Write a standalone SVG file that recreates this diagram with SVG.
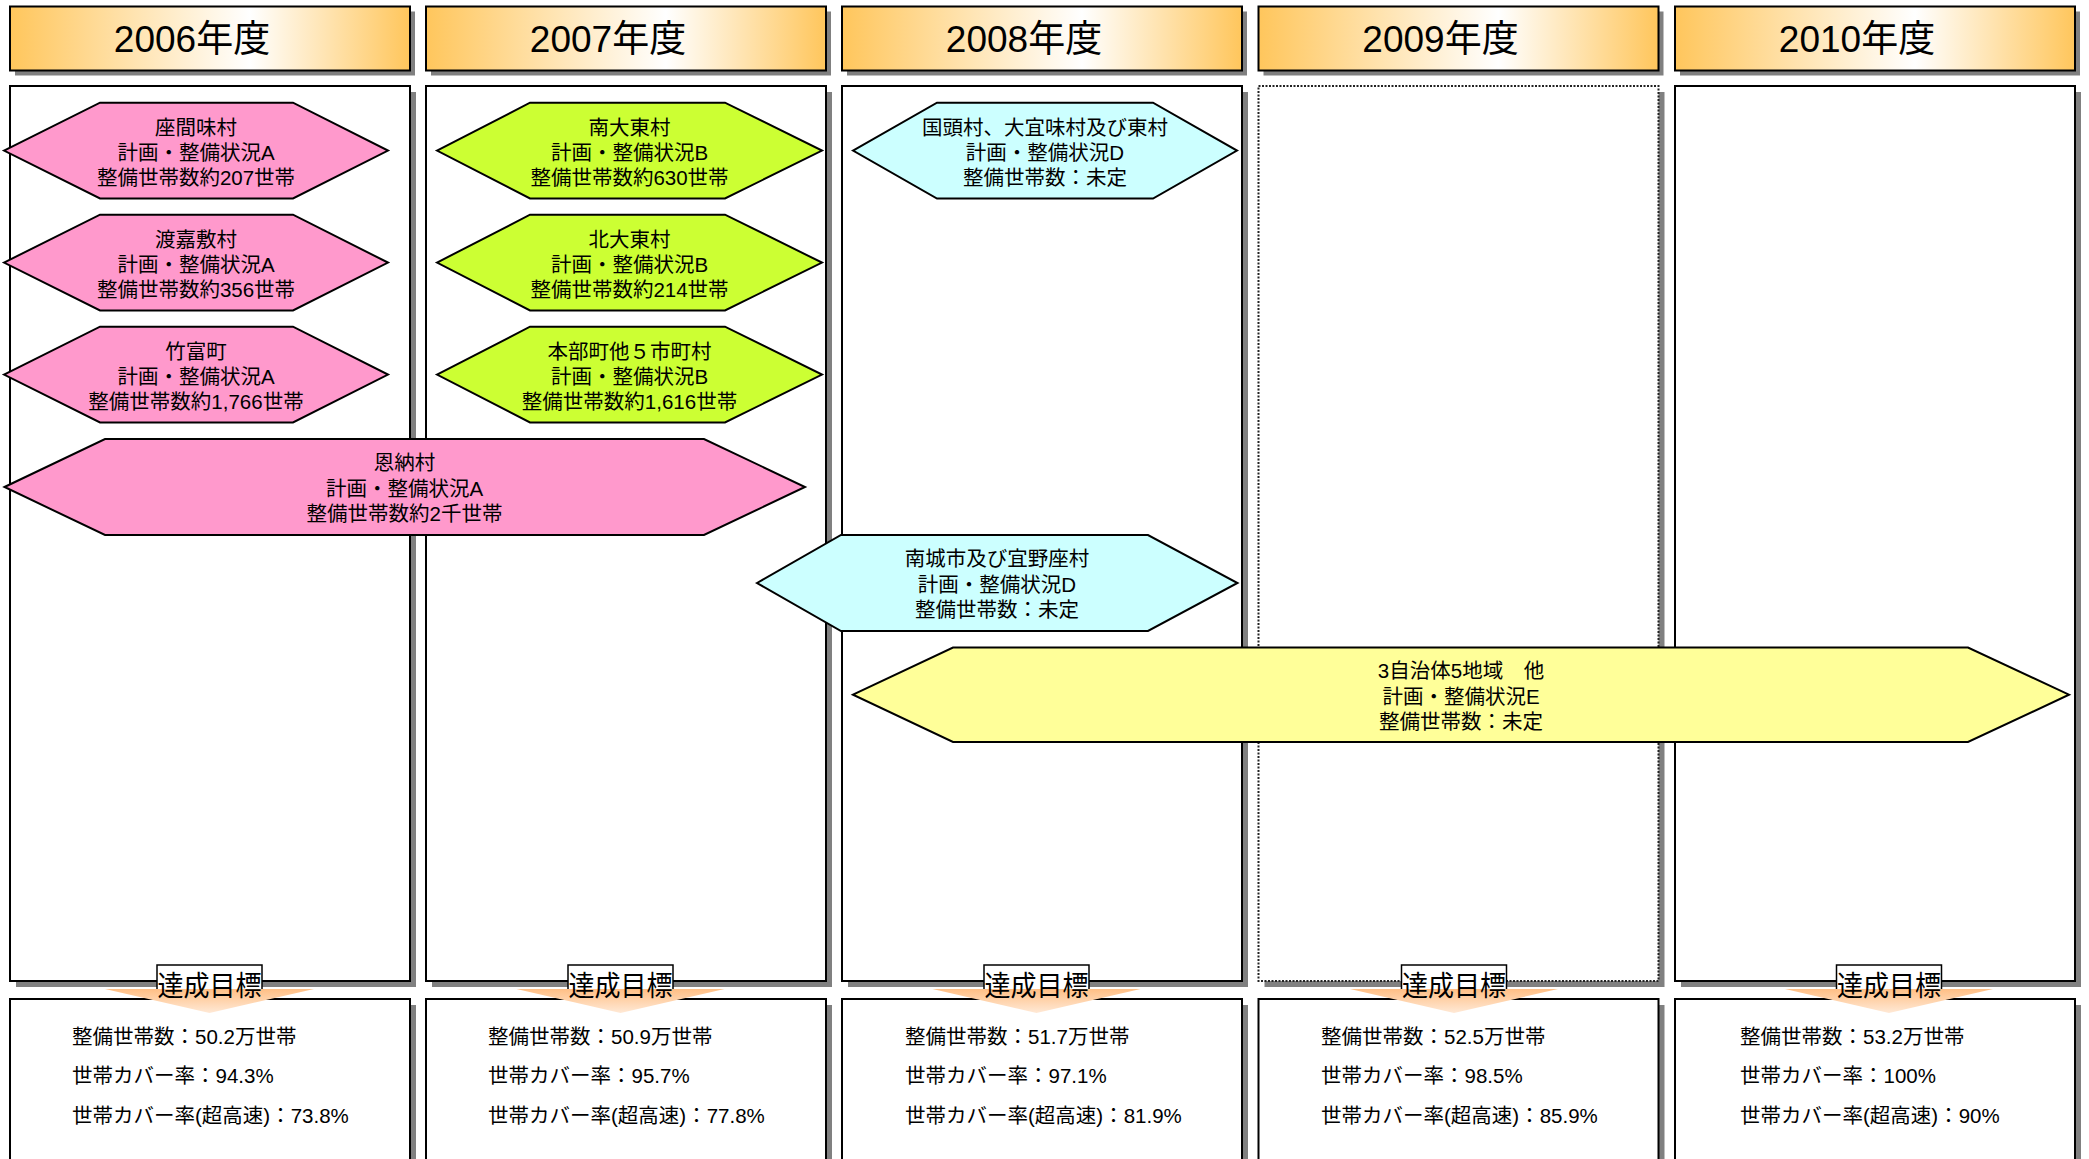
<svg xmlns="http://www.w3.org/2000/svg" width="2089" height="1159" viewBox="0 0 2089 1159">
<defs>
<linearGradient id="hdr" x1="0" y1="0" x2="1" y2="0">
<stop offset="0" stop-color="#FFC65C"/>
<stop offset="0.6" stop-color="#FFFFFF"/>
<stop offset="1" stop-color="#FFC65C"/>
</linearGradient>
<linearGradient id="arw" x1="0" y1="0" x2="0" y2="1">
<stop offset="0" stop-color="#FFBF85"/>
<stop offset="1" stop-color="#FFE9D6"/>
</linearGradient>
</defs>
<style>
text{font-family:"Liberation Sans","Noto Sans CJK JP",sans-serif;fill:#000}
.hdr{fill:url(#hdr);stroke:#000;stroke-width:2}
.shd{fill:#808080}
.pnl{fill:#fff;stroke:#000;stroke-width:2}
.dot{fill:#fff;stroke:#222;stroke-width:2;stroke-dasharray:2 1.5}
.ht{font-size:37px;text-anchor:middle}
.nt{font-size:20.5px;text-anchor:middle}
.gt{font-size:20.5px}
.lbl{fill:#fff;stroke:#000;stroke-width:1.5}
.lt{font-size:28px;text-anchor:middle}
.arw{fill:url(#arw);stroke:none}
.hx{stroke:#000;stroke-width:2}
.pink{fill:#FF99CC}
.green{fill:#CCFF33}
.cyan{fill:#CCFFFF}
.yellow{fill:#FFFF99}
</style>
<rect width="2089" height="1159" fill="#fff"/>

<g id="col2006">
<rect class="shd" x="15" y="11.5" width="400" height="64"/>
<rect class="hdr" x="10" y="6.5" width="400" height="64"/>
<text class="ht" x="192" y="52">2006年度</text>
<rect class="shd" x="16" y="92" width="400" height="895"/>
<rect class="pnl" x="10" y="86" width="400" height="895"/>
<rect class="shd" x="16" y="1005" width="400" height="200"/>
<rect class="pnl" x="10" y="999" width="400" height="200"/>
<text class="gt" x="72" y="1044">整備世帯数：50.2万世帯</text>
<text class="gt" x="72" y="1083">世帯カバー率：94.3%</text>
<text class="gt" x="72" y="1123">世帯カバー率(超高速)：73.8%</text>
</g>

<g id="col2007">
<rect class="shd" x="431" y="11.5" width="400" height="64"/>
<rect class="hdr" x="426" y="6.5" width="400" height="64"/>
<text class="ht" x="608" y="52">2007年度</text>
<rect class="shd" x="432" y="92" width="400" height="895"/>
<rect class="pnl" x="426" y="86" width="400" height="895"/>
<rect class="shd" x="432" y="1005" width="400" height="200"/>
<rect class="pnl" x="426" y="999" width="400" height="200"/>
<text class="gt" x="488" y="1044">整備世帯数：50.9万世帯</text>
<text class="gt" x="488" y="1083">世帯カバー率：95.7%</text>
<text class="gt" x="488" y="1123">世帯カバー率(超高速)：77.8%</text>
</g>

<g id="col2008">
<rect class="shd" x="847" y="11.5" width="400" height="64"/>
<rect class="hdr" x="842" y="6.5" width="400" height="64"/>
<text class="ht" x="1024" y="52">2008年度</text>
<rect class="shd" x="848" y="92" width="400" height="895"/>
<rect class="pnl" x="842" y="86" width="400" height="895"/>
<rect class="shd" x="848" y="1005" width="400" height="200"/>
<rect class="pnl" x="842" y="999" width="400" height="200"/>
<text class="gt" x="905" y="1044">整備世帯数：51.7万世帯</text>
<text class="gt" x="905" y="1083">世帯カバー率：97.1%</text>
<text class="gt" x="905" y="1123">世帯カバー率(超高速)：81.9%</text>
</g>

<g id="col2009">
<rect class="shd" x="1263.5" y="11.5" width="400" height="64"/>
<rect class="hdr" x="1258.5" y="6.5" width="400" height="64"/>
<text class="ht" x="1440.5" y="52">2009年度</text>
<rect class="shd" x="1264.5" y="92" width="400" height="895"/>
<rect class="dot" x="1258.5" y="86" width="400" height="895"/>
<rect class="shd" x="1264.5" y="1005" width="400" height="200"/>
<rect class="pnl" x="1258.5" y="999" width="400" height="200"/>
<text class="gt" x="1321" y="1044">整備世帯数：52.5万世帯</text>
<text class="gt" x="1321" y="1083">世帯カバー率：98.5%</text>
<text class="gt" x="1321" y="1123">世帯カバー率(超高速)：85.9%</text>
</g>

<g id="col2010">
<rect class="shd" x="1680" y="11.5" width="400" height="64"/>
<rect class="hdr" x="1675" y="6.5" width="400" height="64"/>
<text class="ht" x="1857" y="52">2010年度</text>
<rect class="shd" x="1681" y="92" width="400" height="895"/>
<rect class="pnl" x="1675" y="86" width="400" height="895"/>
<rect class="shd" x="1681" y="1005" width="400" height="200"/>
<rect class="pnl" x="1675" y="999" width="400" height="200"/>
<text class="gt" x="1740" y="1044">整備世帯数：53.2万世帯</text>
<text class="gt" x="1740" y="1083">世帯カバー率：100%</text>
<text class="gt" x="1740" y="1123">世帯カバー率(超高速)：90%</text>
</g>

<g id="connectors">
<g id="goal2006">
<rect class="lbl" x="157" y="965" width="105" height="26"/>
<polygon class="arw" points="105,989 314,989 209.5,1013"/>
<text class="lt" x="209.5" y="996" textLength="104" lengthAdjust="spacingAndGlyphs">達成目標</text>
</g>
<g id="goal2007">
<rect class="lbl" x="568" y="965" width="105" height="26"/>
<polygon class="arw" points="516.5,989 724.5,989 620.5,1013"/>
<text class="lt" x="620.5" y="996" textLength="104" lengthAdjust="spacingAndGlyphs">達成目標</text>
</g>
<g id="goal2008">
<rect class="lbl" x="984" y="965" width="105" height="26"/>
<polygon class="arw" points="932.5,989 1140.5,989 1036.5,1013"/>
<text class="lt" x="1036.5" y="996" textLength="104" lengthAdjust="spacingAndGlyphs">達成目標</text>
</g>
<g id="goal2009">
<rect class="lbl" x="1401.5" y="965" width="105" height="26"/>
<polygon class="arw" points="1350,989 1558,989 1454,1013"/>
<text class="lt" x="1454" y="996" textLength="104" lengthAdjust="spacingAndGlyphs">達成目標</text>
</g>
<g id="goal2010">
<rect class="lbl" x="1836.5" y="965" width="105" height="26"/>
<polygon class="arw" points="1785,989 1993,989 1889,1013"/>
<text class="lt" x="1889" y="996" textLength="104" lengthAdjust="spacingAndGlyphs">達成目標</text>
</g>
</g>

<g id="zamami">
<polygon class="hx pink" points="4,150.6 100,102.7 293,102.7 388,150.6 293,198.5 100,198.5"/>
<text class="nt" x="196" y="134.6">座間味村</text>
<text class="nt" x="196" y="160.1">計画・整備状況A</text>
<text class="nt" x="196" y="184.6">整備世帯数約207世帯</text>
</g>
<g id="tokashiki">
<polygon class="hx pink" points="4,262.6 100,214.7 293,214.7 388,262.6 293,310.5 100,310.5"/>
<text class="nt" x="196" y="246.6">渡嘉敷村</text>
<text class="nt" x="196" y="272.1">計画・整備状況A</text>
<text class="nt" x="196" y="296.6">整備世帯数約356世帯</text>
</g>
<g id="taketomi">
<polygon class="hx pink" points="4,374.6 100,326.7 293,326.7 388,374.6 293,422.5 100,422.5"/>
<text class="nt" x="196" y="358.6">竹富町</text>
<text class="nt" x="196" y="384.1">計画・整備状況A</text>
<text class="nt" x="196" y="408.6">整備世帯数約1,766世帯</text>
</g>
<g id="minamidaito">
<polygon class="hx green" points="437,150.6 530,102.7 725,102.7 822,150.6 725,198.5 530,198.5"/>
<text class="nt" x="629.5" y="134.6">南大東村</text>
<text class="nt" x="629.5" y="160.1">計画・整備状況B</text>
<text class="nt" x="629.5" y="184.6">整備世帯数約630世帯</text>
</g>
<g id="kitadaito">
<polygon class="hx green" points="437,262.6 530,214.7 725,214.7 822,262.6 725,310.5 530,310.5"/>
<text class="nt" x="629.5" y="246.6">北大東村</text>
<text class="nt" x="629.5" y="272.1">計画・整備状況B</text>
<text class="nt" x="629.5" y="296.6">整備世帯数約214世帯</text>
</g>
<g id="motobu">
<polygon class="hx green" points="437,374.6 530,326.7 725,326.7 822,374.6 725,422.5 530,422.5"/>
<text class="nt" x="629.5" y="358.6">本部町他５市町村</text>
<text class="nt" x="629.5" y="384.1">計画・整備状況B</text>
<text class="nt" x="629.5" y="408.6">整備世帯数約1,616世帯</text>
</g>
<g id="onna">
<polygon class="hx pink" points="4.5,487 105,439 704,439 805,487 704,535 105,535"/>
<text class="nt" x="404.5" y="470">恩納村</text>
<text class="nt" x="404.5" y="496">計画・整備状況A</text>
<text class="nt" x="404.5" y="521">整備世帯数約2千世帯</text>
</g>
<g id="kunigami">
<polygon class="hx cyan" points="853,150.6 937,102.7 1153,102.7 1237,150.6 1153,198.5 937,198.5"/>
<text class="nt" x="1045" y="134.6">国頭村、大宜味村及び東村</text>
<text class="nt" x="1045" y="160.1">計画・整備状況D</text>
<text class="nt" x="1045" y="184.6">整備世帯数：未定</text>
</g>
<g id="nanjo">
<polygon class="hx cyan" points="757,583 841,535 1148,535 1237.5,583 1148,631 841,631"/>
<text class="nt" x="997" y="566">南城市及び宜野座村</text>
<text class="nt" x="997" y="591.5">計画・整備状況D</text>
<text class="nt" x="997" y="617">整備世帯数：未定</text>
</g>
<g id="others">
<polygon class="hx yellow" points="853,694.7 953,647.5 1968,647.5 2069,694.7 1968,742 953,742"/>
<text class="nt" x="1461" y="678">3自治体5地域　他</text>
<text class="nt" x="1461" y="703.5">計画・整備状況E</text>
<text class="nt" x="1461" y="729">整備世帯数：未定</text>
</g>
</svg>
